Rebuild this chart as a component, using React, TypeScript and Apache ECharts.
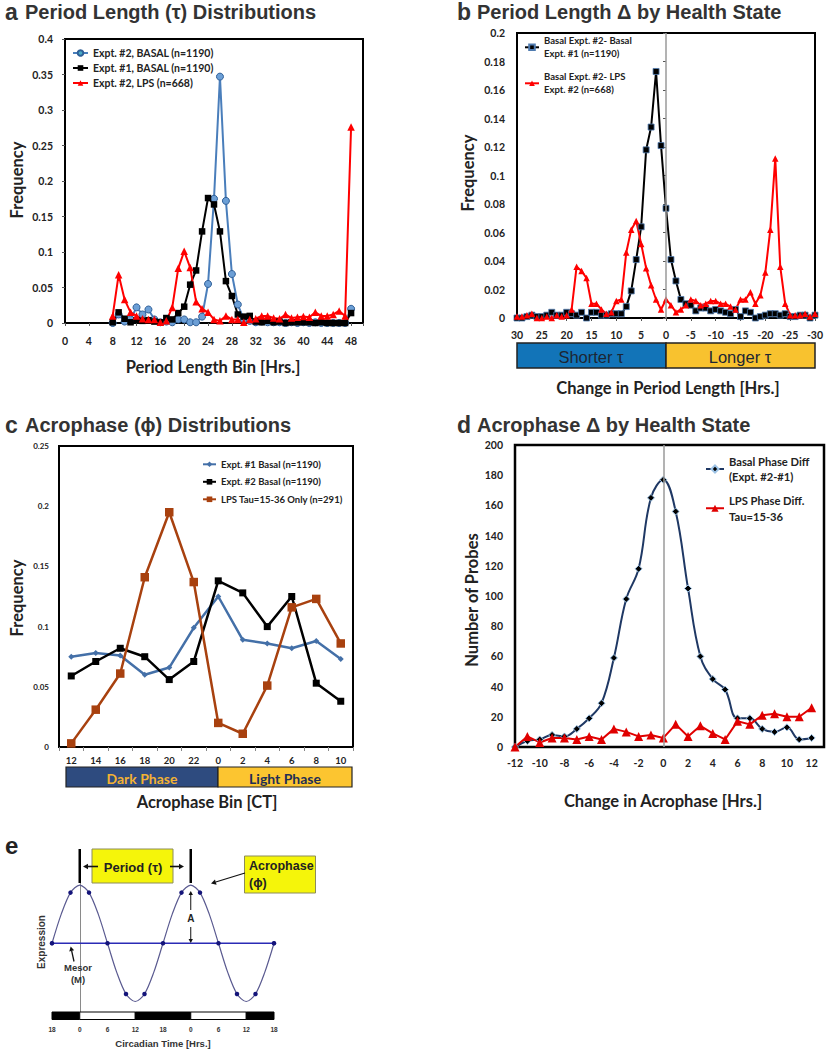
import React, { useEffect, useRef } from "react";
import * as echarts from "echarts";

const ARIAL = '"Liberation Sans", Arial, sans-serif';
const CAL = 'Lato, "Open Sans", sans-serif';

// ---------- Panel a: Period length distributions ----------
const PERIOD_BINS = [8, 9, 10, 11, 12, 13, 14, 15, 16, 17, 18, 19, 20, 21, 22, 23, 24, 25, 26, 27, 28, 29, 30, 31, 32, 33, 34, 35, 36, 37, 38, 39, 40, 41, 42, 43, 44, 45, 46, 47, 48];
const A_EXPT2_BASAL = [0, 0.012, 0.002, 0.005, 0.022, 0.012, 0.019, 0.005, 0.001, 0.002, 0.001, 0.005, 0.005, 0.001, 0.001, 0.009, 0.055, 0.175, 0.347, 0.172, 0.069, 0.026, 0.005, 0.003, 0.001, 0.002, 0.001, 0.001, 0.001, 0, 0.001, 0, 0.001, 0, 0.001, 0, 0, 0, 0, 0, 0.02];
const A_EXPT1_BASAL = [0.001, 0.015, 0.006, 0.001, 0.004, 0.003, 0.004, 0.002, 0.001, 0.007, 0.005, 0.014, 0.023, 0.054, 0.074, 0.129, 0.176, 0.167, 0.129, 0.059, 0.038, 0.012, 0.009, 0.01, 0.002, 0.001, 0.003, 0.001, 0.002, 0, 0.001, 0.001, 0.001, 0.001, 0, 0.001, 0, 0, 0, 0, 0.014];
const A_EXPT2_LPS = [0.01, 0.068, 0.033, 0.015, 0.01, 0.006, 0.005, 0.005, 0.001, 0.003, 0.022, 0.077, 0.101, 0.078, 0.03, 0.02, 0.015, 0.005, 0.003, 0.01, 0.005, 0.005, 0.001, 0.005, 0.006, 0.01, 0.01, 0.007, 0.006, 0.012, 0.007, 0.008, 0.009, 0.008, 0.015, 0.01, 0.01, 0.012, 0.017, 0.01, 0.276];
const A_NAMES = ["Expt. #2, BASAL (n=1190)", "Expt. #1, BASAL (n=1190)", "Expt. #2, LPS (n=668)"];

// ---------- Panel b: Period length change ----------
const CHANGE_BINS = [30, 29, 28, 27, 26, 25, 24, 23, 22, 21, 20, 19, 18, 17, 16, 15, 14, 13, 12, 11, 10, 9, 8, 7, 6, 5, 4, 3, 2, 1, 0, -1, -2, -3, -4, -5, -6, -7, -8, -9, -10, -11, -12, -13, -14, -15, -16, -17, -18, -19, -20, -21, -22, -23, -24, -25, -26, -27, -28, -29, -30];
const B_BASAL_DIFF = [0, 0, 0.001, 0.002, 0.001, 0.001, 0.002, 0.004, 0.002, 0.002, 0.004, 0.003, 0.002, 0.004, 0, 0.004, 0.004, 0.002, 0.002, 0.003, 0.003, 0.003, 0.008, 0.019, 0.041, 0.064, 0.118, 0.134, 0.173, 0.121, 0.077, 0.041, 0.026, 0.013, 0.01, 0.009, 0.005, 0.007, 0.007, 0.005, 0.006, 0.005, 0.004, 0.003, 0.006, 0.001, 0.005, 0.004, 0, 0.001, 0.002, 0.003, 0.003, 0.002, 0.003, 0.001, 0.001, 0.002, 0.002, 0, 0.002];
const B_LPS_DIFF = [0.001, 0.001, 0.002, 0.003, 0, 0, 0.001, 0, 0.002, 0.001, 0.002, 0.006, 0.036, 0.033, 0.028, 0.01, 0.01, 0.006, 0.003, 0.004, 0.012, 0.013, 0.046, 0.062, 0.068, 0.052, 0.035, 0.023, 0.013, 0.006, 0.013, 0.009, 0.004, 0.006, 0.009, 0.013, 0.012, 0.009, 0.01, 0.012, 0.012, 0.01, 0.01, 0.008, 0.006, 0.013, 0.013, 0.018, 0.01, 0.016, 0.032, 0.062, 0.112, 0.036, 0.01, 0.002, 0.002, 0.002, 0.003, 0.001, 0.003];
const B_NAMES = ["Basal Expt. #2- Basal\nExpt. #1 (n=1190)", "Basal Expt. #2- LPS\nExpt. #2 (n=668)"];

// ---------- Panel c: Acrophase distributions ----------
const CT_BINS = ["12", "14", "16", "18", "20", "22", "0", "2", "4", "6", "8", "10"];
const C_EXPT1_BASAL = [0.075, 0.078, 0.076, 0.06, 0.066, 0.099, 0.125, 0.089, 0.086, 0.082, 0.088, 0.073];
const C_EXPT2_BASAL = [0.059, 0.071, 0.082, 0.075, 0.056, 0.071, 0.138, 0.128, 0.1, 0.125, 0.053, 0.038];
const C_LPS = [0.003, 0.031, 0.061, 0.141, 0.195, 0.137, 0.02, 0.011, 0.051, 0.116, 0.123, 0.086];
const C_NAMES = ["Expt. #1 Basal (n=1190)", "Expt. #2 Basal (n=1190)", "LPS Tau=15-36 Only (n=291)"];

// ---------- Panel d: Acrophase change ----------
const PHASE_DIFF_BINS = [-12, -11, -10, -9, -8, -7, -6, -5, -4, -3, -2, -1, 0, 1, 2, 3, 4, 5, 6, 7, 8, 9, 10, 11, 12];
const D_BASAL = [0, 4, 5, 8, 7, 12, 19, 29, 59, 98, 118, 165, 177, 156, 105, 60, 45, 38, 19, 19, 12, 10, 13, 5, 6];
const D_LPS = [0, 7, 3, 6, 6, 5, 7, 5, 12, 10, 7, 8, 6, 15, 7, 14, 9, 5, 17, 15, 21, 22, 20, 20, 26];
const D_NAMES = ["Basal Phase Diff\n(Expt. #2-#1)", "LPS Phase Diff.\nTau=15-36"];

// ---------- Panel e: cosinor schematic ----------
const E_TIME = [-6, -4, -2, 0, 2, 4, 6, 8, 10, 12, 14, 16, 18, 20, 22, 24, 26, 28, 30, 32, 34, 36, 38, 40, 42];
const E_EXPR = [0, 0.5, 0.87, 1, 0.87, 0.5, 0, -0.5, -0.87, -1, -0.87, -0.5, 0, 0.5, 0.87, 1, 0.87, 0.5, 0, -0.5, -0.87, -1, -0.87, -0.5, 0];
const E_DOT = [1, 0, 1, 0, 1, 0, 1, 0, 1, 0, 1, 0, 1, 0, 1, 0, 1, 0, 1, 0, 1, 0, 1, 0, 1];
const E_MESOR_T = [-6, 42];
const E_MESOR_Y = [0, 0];

const zip = (xs: number[], ys: number[]) => xs.map((x, i) => [x, ys[i]]);

function txt(x: number, y: number, text: string, size: number, o: any = {}) {
  return {
    type: "text", x, y, rotation: o.rotation || 0, silent: true, z: 100,
    style: {
      text, fontSize: size, fontFamily: o.family || CAL, fontWeight: o.weight || "bold",
      fill: o.color || "#222", align: o.align || "center", verticalAlign: "middle",
    },
  };
}
function rect(x: number, y: number, w: number, h: number, fill: string, stroke = "#111", lw = 1) {
  return { type: "rect", silent: true, z: 50, shape: { x, y, width: w, height: h }, style: { fill, stroke, lineWidth: lw } };
}
function seg(x1: number, y1: number, x2: number, y2: number, color = "#111", w = 1.5) {
  return { type: "line", silent: true, z: 60, shape: { x1, y1, x2, y2 }, style: { stroke: color, lineWidth: w } };
}
function arrow(x1: number, y1: number, x2: number, y2: number, w = 1.5, h = 5, color = "#111") {
  const dx = x2 - x1, dy = y2 - y1, L = Math.hypot(dx, dy);
  const ux = dx / L, uy = dy / L;
  const bx = x2 - ux * h, by = y2 - uy * h;
  const px = -uy * h * 0.55, py = ux * h * 0.55;
  return [
    seg(x1, y1, bx, by, color, w),
    { type: "polygon", silent: true, z: 60, shape: { points: [[x2, y2], [bx + px, by + py], [bx - px, by - py]] }, style: { fill: color } },
  ];
}

const lab = (size: number, margin: number, extra: any = {}) => ({
  fontFamily: CAL, fontWeight: "bold", fontSize: size, color: "#222", margin, ...extra,
});
const gridStyle = { show: true, borderColor: "#000", borderWidth: 2, backgroundColor: "transparent", containLabel: false, outerBoundsMode: "none" };
const legendText = (size: number, lh: number, pad = 0) => ({
  fontFamily: CAL, fontWeight: "bold", fontSize: size, lineHeight: lh, color: "#222",
  padding: pad ? [pad, 0, 0, 0] : 0,
});

const ex = (t: number) => 52 + ((t + 6) / 48) * 222;
const AT = 16.5; // axis title size

const App: React.FC = () => {
  const ref = useRef<HTMLDivElement>(null);
  useEffect(() => {
    const chart = echarts.init(ref.current!, null, { renderer: "svg" });
    const vline = {
      silent: true, symbol: ["none", "none"], label: { show: false },
      lineStyle: { color: "#9a9a9a", width: 1.5, type: "solid" }, data: [{ xAxis: 0 }],
    };
    const option: any = {
      animation: false,
      backgroundColor: "#fff",
      textStyle: { fontFamily: CAL },
      grid: [
        { ...gridStyle, left: 65, top: 39, width: 298, height: 284 },
        { ...gridStyle, left: 517, top: 33, width: 298, height: 285 },
        { ...gridStyle, left: 59, top: 446, width: 294, height: 301 },
        { ...gridStyle, left: 515, top: 445, width: 309, height: 302, borderWidth: 2.5 },
        { left: 52, top: 867, width: 222, height: 145, show: false, containLabel: false, outerBoundsMode: "none" },
      ],
      xAxis: [
        {
          gridIndex: 0, type: "value", min: 0, max: 50, interval: 4,
          axisLine: { show: false }, splitLine: { show: false },
          axisTick: { show: true, length: 3, lineStyle: { color: "#555" } },
          axisLabel: lab(10.5, 12, { formatter: (v: number) => (v % 4 === 0 && v <= 48 ? String(v) : "") }),
        },
        {
          gridIndex: 1, type: "value", min: -30, max: 30, interval: 5, inverse: true,
          axisLine: { show: false }, splitLine: { show: false },
          axisTick: { show: true, length: 3, lineStyle: { color: "#555" } },
          axisLabel: lab(10.5, 11),
        },
        {
          gridIndex: 2, type: "category", data: CT_BINS, boundaryGap: true,
          axisLine: { show: false }, splitLine: { show: false },
          axisTick: { show: true, length: 4, lineStyle: { color: "#888" } },
          axisLabel: lab(9.5, 8),
        },
        {
          gridIndex: 3, type: "value", min: -12, max: 13, interval: 2,
          axisLine: { show: false }, splitLine: { show: false }, axisTick: { show: false },
          axisLabel: lab(10.5, 10, { formatter: (v: number) => (Math.abs(v % 2) === 0 && v <= 12 ? String(v) : "") }),
        },
        {
          gridIndex: 4, type: "value", min: -6, max: 42, interval: 6,
          axisLine: { show: false }, splitLine: { show: false }, axisTick: { show: false },
          axisLabel: { fontFamily: ARIAL, fontWeight: "bold", fontSize: 6.5, color: "#333", margin: 14, formatter: (v: number) => String(((v % 24) + 24) % 24) },
        },
      ],
      yAxis: [
        { gridIndex: 0, type: "value", min: 0, max: 0.4, interval: 0.05, axisLine: { show: false }, splitLine: { show: false }, axisTick: { show: true, length: 3, lineStyle: { color: "#555" } }, axisLabel: lab(10.5, 12) },
        { gridIndex: 1, type: "value", min: 0, max: 0.2, interval: 0.02, axisLine: { show: false }, splitLine: { show: false }, axisTick: { show: true, length: 3, lineStyle: { color: "#555" } }, axisLabel: lab(10.5, 12) },
        { gridIndex: 2, type: "value", min: 0, max: 0.25, interval: 0.05, axisLine: { show: false }, splitLine: { show: false }, axisTick: { show: false }, axisLabel: lab(8, 10) },
        { gridIndex: 3, type: "value", min: 0, max: 200, interval: 20, axisLine: { show: false }, splitLine: { show: false }, axisTick: { show: false }, axisLabel: lab(10.5, 12) },
        { gridIndex: 4, type: "value", min: -1.18, max: 1.31, axisLine: { show: true, lineStyle: { color: "#8a8a8a", width: 1 } }, splitLine: { show: false }, axisTick: { show: false }, axisLabel: { show: false } },
      ],
      legend: [
        {
          data: [{ name: A_NAMES[0], itemStyle: { color: "#4BACC6" } }, A_NAMES[1], A_NAMES[2]],
          orient: "vertical", left: 72, top: 47, itemWidth: 15, itemHeight: 7, itemGap: 3, padding: 0,
          selectedMode: false, textStyle: legendText(10.5, 12),
        },
        { data: [B_NAMES[0]], left: 524, top: 27.8, itemWidth: 14, itemHeight: 7, padding: 0, selectedMode: false, textStyle: legendText(9.5, 13, 13) },
        { data: [B_NAMES[1]], left: 524, top: 63.8, itemWidth: 14, itemHeight: 7, padding: 0, selectedMode: false, textStyle: legendText(9.5, 13, 13) },
        {
          data: C_NAMES, orient: "vertical", left: 202, top: 458.3, itemWidth: 13, itemHeight: 7, itemGap: 5.5, padding: 0,
          selectedMode: false, textStyle: legendText(9.5, 12),
        },
        { data: [D_NAMES[0]], left: 705, top: 445.75, itemWidth: 18, itemHeight: 9, padding: 0, selectedMode: false, textStyle: legendText(11.2, 15.5, 15.5) },
        { data: [D_NAMES[1]], left: 705, top: 485, itemWidth: 18, itemHeight: 9, padding: 0, selectedMode: false, textStyle: legendText(11.2, 15.5, 15.5) },
      ],
      series: [
        // a
        { name: A_NAMES[0], type: "line", xAxisIndex: 0, yAxisIndex: 0, data: zip(PERIOD_BINS, A_EXPT2_BASAL), symbol: "circle", symbolSize: 7, lineStyle: { color: "#4A7EBB", width: 2 }, itemStyle: { color: "#6C9FD6", borderColor: "#2F5F98", borderWidth: 1 } },
        { name: A_NAMES[1], type: "line", xAxisIndex: 0, yAxisIndex: 0, data: zip(PERIOD_BINS, A_EXPT1_BASAL), symbol: "rect", symbolSize: 6.5, lineStyle: { color: "#000", width: 2 }, itemStyle: { color: "#000" } },
        { name: A_NAMES[2], type: "line", xAxisIndex: 0, yAxisIndex: 0, data: zip(PERIOD_BINS, A_EXPT2_LPS), symbol: "triangle", symbolSize: 7.5, lineStyle: { color: "#FF0000", width: 2 }, itemStyle: { color: "#FF0000" } },
        // b
        { name: B_NAMES[0], type: "line", xAxisIndex: 1, yAxisIndex: 1, data: zip(CHANGE_BINS, B_BASAL_DIFF), symbol: "rect", symbolSize: 6, lineStyle: { color: "#000", width: 2 }, itemStyle: { color: "#000", borderColor: "#4F7BB0", borderWidth: 0.8 }, markLine: vline },
        { name: B_NAMES[1], type: "line", xAxisIndex: 1, yAxisIndex: 1, data: zip(CHANGE_BINS, B_LPS_DIFF), symbol: "triangle", symbolSize: 6.5, lineStyle: { color: "#FF0000", width: 2 }, itemStyle: { color: "#FF0000" } },
        // c
        { name: C_NAMES[0], type: "line", xAxisIndex: 2, yAxisIndex: 2, data: C_EXPT1_BASAL, symbol: "diamond", symbolSize: 6, lineStyle: { color: "#4470A8", width: 2.5 }, itemStyle: { color: "#4470A8" } },
        { name: C_NAMES[1], type: "line", xAxisIndex: 2, yAxisIndex: 2, data: C_EXPT2_BASAL, symbol: "rect", symbolSize: 7, lineStyle: { color: "#000", width: 2.5 }, itemStyle: { color: "#000" } },
        { name: C_NAMES[2], type: "line", xAxisIndex: 2, yAxisIndex: 2, data: C_LPS, symbol: "rect", symbolSize: 8.5, lineStyle: { color: "#A8410F", width: 2.5 }, itemStyle: { color: "#A8410F" } },
        // d
        { name: D_NAMES[0], type: "line", xAxisIndex: 3, yAxisIndex: 3, data: zip(PHASE_DIFF_BINS, D_BASAL), smooth: 0.4, symbol: "diamond", symbolSize: 7, lineStyle: { color: "#1F3864", width: 2 }, itemStyle: { color: "#000", borderColor: "#9DC3E6", borderWidth: 1 }, markLine: vline },
        { name: D_NAMES[1], type: "line", xAxisIndex: 3, yAxisIndex: 3, data: zip(PHASE_DIFF_BINS, D_LPS), symbol: "triangle", symbolSize: 9, lineStyle: { color: "#E00000", width: 2 }, itemStyle: { color: "#E00000" } },
        // e
        { name: "Mesor", type: "line", xAxisIndex: 4, yAxisIndex: 4, data: zip(E_MESOR_T, E_MESOR_Y), symbol: "circle", symbolSize: 4, lineStyle: { color: "#2B2BB5", width: 1.5 }, itemStyle: { color: "#1a1a8a" } },
        {
          name: "Expression", type: "line", xAxisIndex: 4, yAxisIndex: 4,
          data: E_TIME.map((t, i) => ({ value: [t, E_EXPR[i]], symbol: E_DOT[i] ? "circle" : "none" })),
          smooth: 0.3, showSymbol: true, symbolSize: 4.5, lineStyle: { color: "#5A5A90", width: 1.2 }, itemStyle: { color: "#14147A" },
        },
      ],
      graphic: [
        // panel titles
        txt(5, 12, "a", 23, { family: ARIAL, align: "left", color: "#333" }),
        txt(25, 12, "Period Length (τ) Distributions", 20, { family: ARIAL, align: "left", color: "#333" }),
        txt(457, 12, "b", 23, { family: ARIAL, align: "left", color: "#333" }),
        txt(477, 12, "Period Length Δ by Health State", 20, { family: ARIAL, align: "left", color: "#333" }),
        txt(5, 425, "c", 23, { family: ARIAL, align: "left", color: "#333" }),
        txt(25, 425, "Acrophase (ϕ) Distributions", 20, { family: ARIAL, align: "left", color: "#333" }),
        txt(457, 425, "d", 23, { family: ARIAL, align: "left", color: "#333" }),
        txt(477, 425, "Acrophase Δ by Health State", 20, { family: ARIAL, align: "left", color: "#333" }),
        // axis titles
        txt(213, 367, "Period Length Bin [Hrs.]", AT),
        txt(17, 180, "Frequency", AT, { rotation: Math.PI / 2 }),
        txt(668, 388, "Change in Period Length [Hrs.]", AT),
        txt(468, 173, "Frequency", AT, { rotation: Math.PI / 2 }),
        txt(207, 802, "Acrophase Bin [CT]", AT),
        txt(17, 598, "Frequency", AT, { rotation: Math.PI / 2 }),
        txt(663, 801, "Change in Acrophase [Hrs.]", AT),
        txt(472, 600, "Number of Probes", AT, { rotation: Math.PI / 2 }),
        // panel b bar
        rect(517, 343, 149, 25, "#1274B8", "#222", 1.5),
        rect(666, 343, 149, 25, "#F8C22F", "#222", 1.5),
        txt(591, 357, "Shorter τ", 16.5, { family: ARIAL, weight: "normal", color: "#1d2633" }),
        txt(740, 357, "Longer τ", 16.5, { family: ARIAL, weight: "normal", color: "#1d2633" }),
        // panel c bar
        rect(66, 767, 152, 20, "#2E4B7F", "#222", 1.2),
        rect(218, 767, 134, 20, "#FCC530", "#222", 1.2),
        txt(142, 778, "Dark Phase", 14, { color: "#F3B233" }),
        txt(285, 778, "Light Phase", 14, { color: "#1F2E55" }),
        // panel e
        txt(5, 845, "e", 24, { family: ARIAL, align: "left", color: "#222" }),
        rect(ex(-6), 1012, ex(0) - ex(-6), 7.5, "#000", "#000", 1),
        rect(ex(0), 1012, ex(12) - ex(0), 7.5, "#fff", "#000", 1),
        rect(ex(12), 1012, ex(24) - ex(12), 7.5, "#000", "#000", 1),
        rect(ex(24), 1012, ex(36) - ex(24), 7.5, "#fff", "#000", 1),
        rect(ex(36), 1012, ex(42) - ex(36), 7.5, "#000", "#000", 1),
        seg(ex(0), 849, ex(0), 883, "#000", 2.5),
        seg(ex(24), 849, ex(24), 883, "#000", 2.5),
        rect(92, 849, 81, 34, "#F5F50A", "#8c8c5a", 1),
        txt(133, 867, "Period (τ)", 13, { family: ARIAL }),
        ...arrow(98, 866.5, 83, 866.5, 1.6, 5),
        ...arrow(170, 866.5, 184, 866.5, 1.6, 5),
        rect(244.5, 856, 71, 37, "#F5F50A", "#8c8c5a", 1),
        txt(249, 866, "Acrophase", 12.5, { family: ARIAL, align: "left" }),
        txt(249, 883, "(ϕ)", 12.5, { family: ARIAL, align: "left" }),
        ...arrow(245, 873, 211, 883.5, 1.2, 5),
        ...arrow(ex(24), 910, ex(24), 891, 1, 4),
        ...arrow(ex(24), 927, ex(24), 943, 1, 4),
        txt(ex(24), 918.5, "A", 10, { family: ARIAL, color: "#222" }),
        ...arrow(74, 961.5, 70.7, 946.5, 1.3, 4.5),
        txt(78, 967.5, "Mesor", 9.5, { family: ARIAL, color: "#333" }),
        txt(78, 979.5, "(M)", 9.5, { family: ARIAL, color: "#333" }),
        txt(41, 942, "Expression", 10, { family: ARIAL, color: "#333", rotation: Math.PI / 2 }),
        txt(163, 1043, "Circadian Time [Hrs.]", 9.5, { family: ARIAL, color: "#333" }),
      ],
    };
    chart.setOption(option);
    return () => chart.dispose();
  }, []);
  return <div ref={ref} style={{ position: "absolute", left: 0, top: 0, width: 827, height: 1050 }} />;
};

export default App;
